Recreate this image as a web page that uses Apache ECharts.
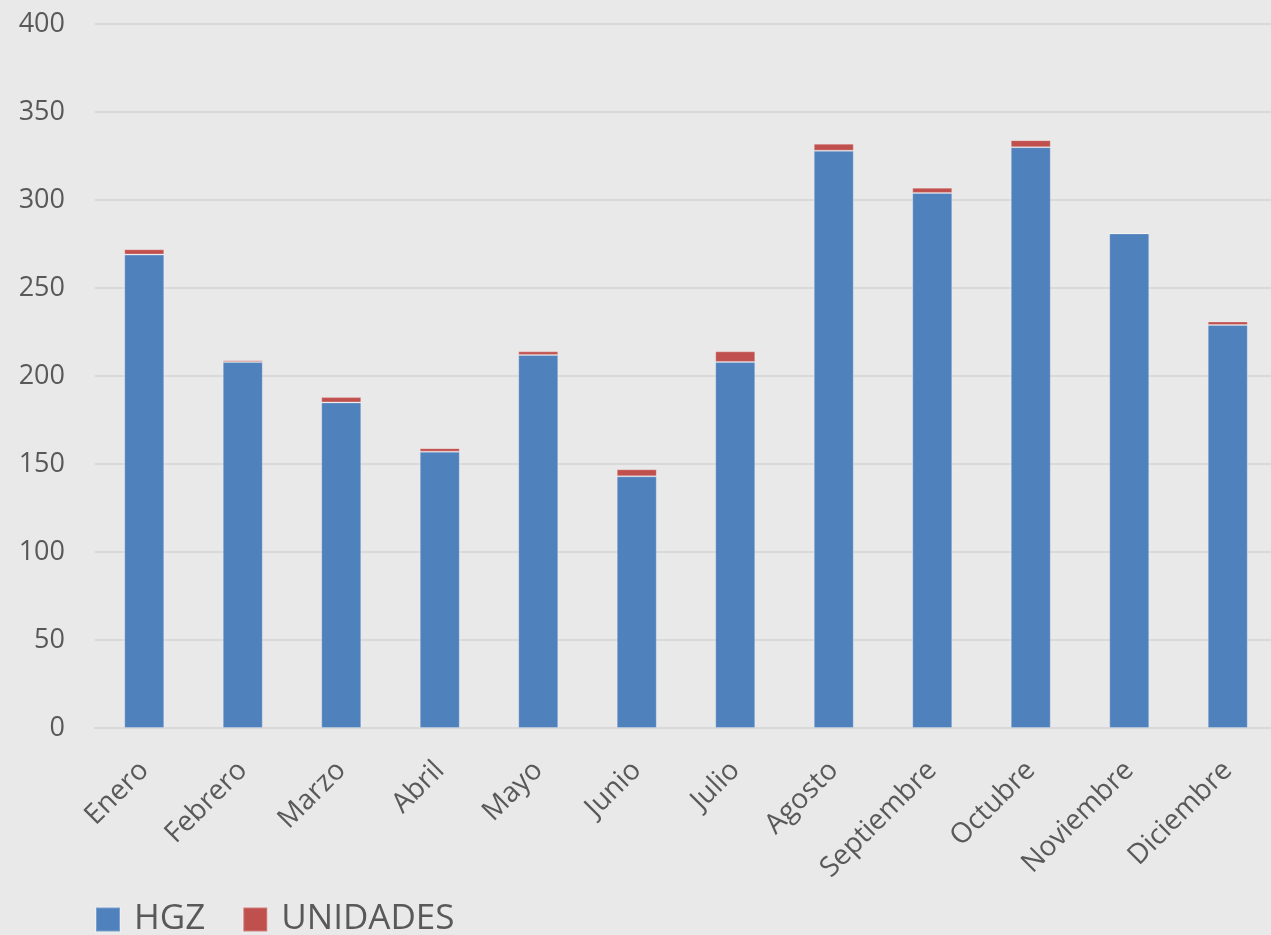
<!DOCTYPE html>
<html>
<head>
<meta charset="utf-8">
<script src="https://cdn.jsdelivr.net/npm/echarts@6/dist/echarts.min.js"></script>
<style>
html,body{margin:0;padding:0;background:#e9e9e9;overflow:hidden;}
#c{width:1277px;height:935px;}
</style>
</head>
<body>
<div id="c"></div>
<script>
const categories = ["Enero","Febrero","Marzo","Abril","Mayo","Junio","Julio","Agosto","Septiembre","Octubre","Noviembre","Diciembre"];
const hgz = [269,208,185,157,212,143,208,328,304,330,281,229];
const unidades = [3,1,3,2,2,4,6,4,3,4,0,2];
const yTicks = [0,50,100,150,200,250,300,350,400];

const chart = echarts.init(document.getElementById('c'));
const font = '"Open Sans", "Noto Sans", sans-serif';
chart.setOption({
  backgroundColor: '#e9e9e9',
  animation: false,
  textStyle: {fontFamily: font},
  grid: {left: 95, right: 0, top: 24, bottom: 207, containLabel: false},
  legend: {
    left: 90, bottom: -7,
    itemWidth: 24, itemHeight: 24, itemGap: 37,
    icon: 'rect',
    textStyle: {fontSize: 35, color: '#595959', fontFamily: font, padding: [0,0,0,9]},
    data: ['HGZ','UNIDADES']
  },
  xAxis: {
    type: 'category',
    data: categories,
    axisLine: {lineStyle: {color: '#d9d9d9', width: 2}},
    axisTick: {show: false},
    axisLabel: {rotate: 45, fontSize: 28, color: '#595959', margin: 38, fontFamily: font}
  },
  yAxis: {
    type: 'value',
    min: yTicks[0], max: yTicks[yTicks.length-1], interval: 50,
    axisLine: {show: false},
    axisTick: {show: false},
    splitLine: {lineStyle: {color: '#d9d9d9', width: 2}},
    axisLabel: {fontSize: 27, color: '#595959', margin: 30, fontFamily: font}
  },
  series: [
    {name: 'HGZ', type: 'bar', stack: 's', data: hgz, barWidth: 40,
     itemStyle: {color: '#4f81bd', borderColor: 'rgba(255,255,255,0.25)', borderWidth: 1}},
    {name: 'UNIDADES', type: 'bar', stack: 's', data: unidades, barWidth: 40,
     itemStyle: {color: '#c0504d', borderColor: 'rgba(255,255,255,0.25)', borderWidth: 1}}
  ]
});
</script>
</body>
</html>
